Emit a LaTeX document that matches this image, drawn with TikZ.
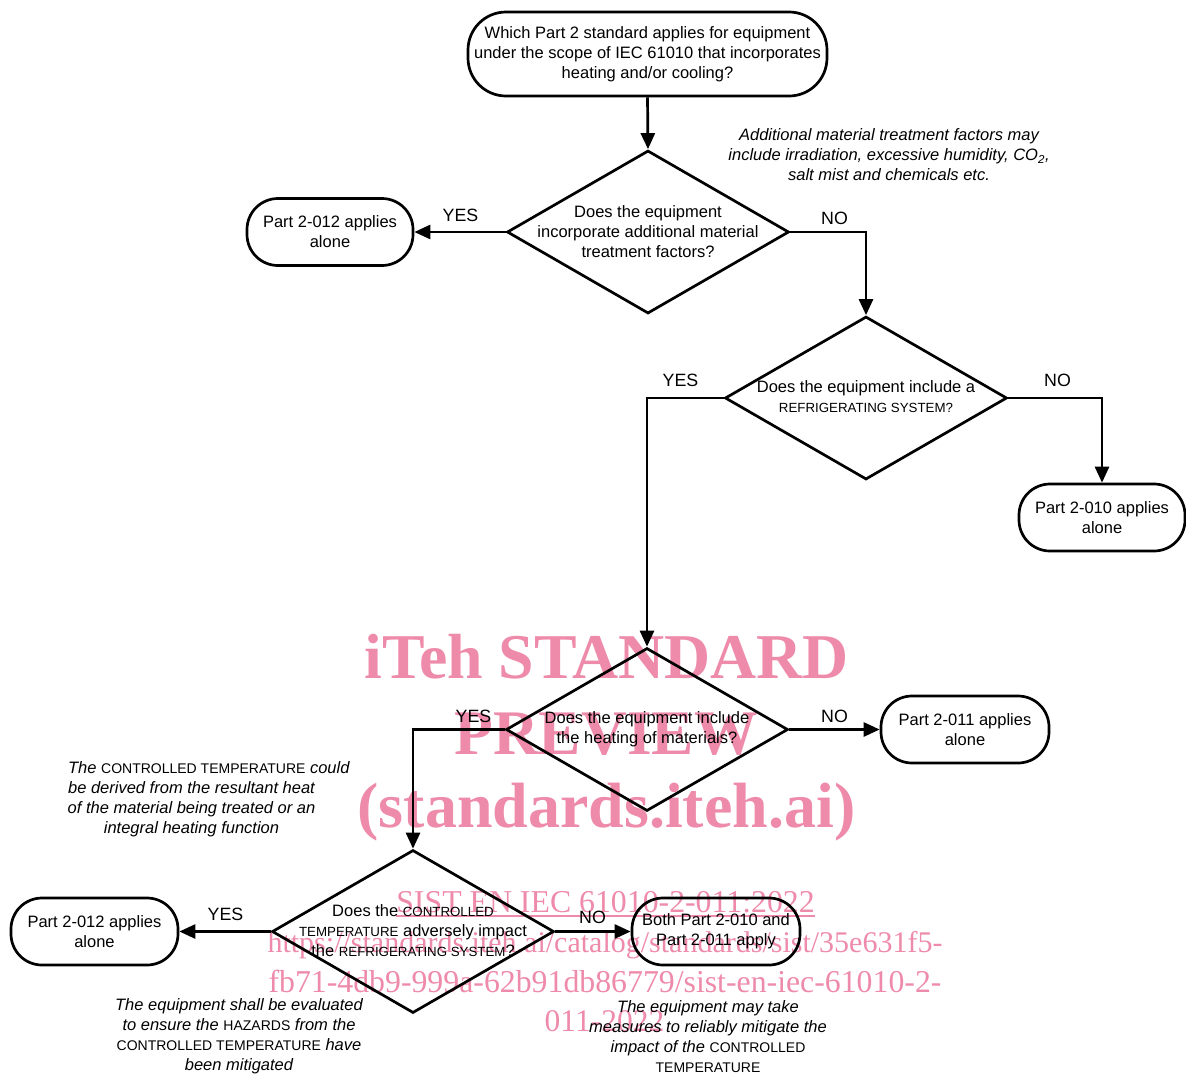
\documentclass[tikz,border=0pt]{standalone}
\usepackage{fontspec}
\setmainfont{Liberation Sans}
\newfontfamily\wmfont{Liberation Serif}
\usetikzlibrary{arrows.meta,shapes.geometric}
\newcommand\smc[1]{{\upshape\fontsize{13.3}{13}\selectfont #1}}
\newcommand\nsmc[1]{{\upshape\fontsize{14}{13}\selectfont #1}}
\newlength\nwA
\definecolor{wmpink}{RGB}{238,138,170}
\begin{document}
\begin{tikzpicture}[x=1pt,y=-1pt,
  every node/.style={font=\fontsize{16.5}{20}\selectfont},
  term/.style={draw,line width=2.7pt,rounded corners=31pt,minimum width=166pt,minimum height=67pt,align=center,inner sep=0pt},
  dia/.style={draw,line width=2.7pt,diamond,minimum width=282pt,minimum height=163pt,inner sep=0pt},
  qtext/.style={align=center,inner sep=0pt},
  lbl/.style={inner sep=0pt,font=\fontsize{17.8}{20}\selectfont},
  note/.style={align=center,inner sep=0pt,font=\itshape\fontsize{16.5}{20}\selectfont},
  arr/.style={line width=2.7pt,-{Triangle[length=16pt,width=14pt]}},
  wm/.style={text=wmpink,inner sep=0pt,anchor=base}
]
\useasboundingbox (0,0) rectangle (1186,1074);
% watermark (behind the diagram)
\node[wm,font=\wmfont\bfseries\fontsize{63.8}{64}\selectfont] (w1) at (606.5,678) {iTeh STANDARD};
\node[wm,font=\wmfont\bfseries\fontsize{63.5}{64}\selectfont] (w2) at (606,754) {PREVIEW};
\node[wm,font=\wmfont\bfseries\fontsize{64}{64}\selectfont] (w3) at (606.5,827) {(standards.iteh.ai)};
\node[wm,font=\wmfont\fontsize{31.8}{32}\selectfont] (w4) at (605.5,912) {SIST EN IEC 61010-2-011:2022};
\draw[wmpink,line width=2pt] (w4.base west)++(0,4) -- ([yshift=-4pt]w4.base east);
\node[wm,font=\wmfont\fontsize{30}{30}\selectfont] (w5) at (605,952) {https://standards.iteh.ai/catalog/standards/sist/35e631f5-};
\node[wm,font=\wmfont\fontsize{31.8}{32}\selectfont] (w6) at (605,992) {fb71-4db9-999a-62b91db86779/sist-en-iec-61010-2-};
\node[wm,font=\wmfont\fontsize{31.5}{32}\selectfont] (w7) at (604.5,1031) {011-2022};
% nodes
\node[term,minimum width=359pt,minimum height=84pt,rounded corners=38pt] (t0) at (647.5,54) {Which Part 2 standard applies for equipment\\under the scope of IEC 61010 that incorporates\\heating and/or cooling?};
\node[dia] (d1) at (648,232) {};
\node[qtext] (q1) at (d1) {Does the equipment\\incorporate additional material\\treatment factors?};
\node[term] (r1) at (330,232) {Part 2-012 applies\\alone};
\node[dia] (d2) at (866,398) {};
\node[qtext] (q2) at (866,397) {Does the equipment include a\\\smc{REFRIGERATING SYSTEM?}};
\node[term] (r2) at (1102,517.5) {Part 2-010 applies\\alone};
\node[dia] (d3) at (647,729.5) {};
\node[qtext] (q3) at (647,729) {Does the equipment include\\the heating of materials?};
\node[term,minimum width=168pt] (r3) at (965,729.5) {Part 2-011 applies\\alone};
\node[dia] (d4) at (413,931.5) {};
\node[qtext] (q4) at (413,931) {Does the \smc{CONTROLLED}\\\smc{TEMPERATURE} adversely impact\\the \smc{REFRIGERATING SYSTEM}?};
\node[term,minimum width=167pt] (r4) at (94.5,931.5) {Part 2-012 applies\\alone};
\node[term,minimum width=168pt] (r5) at (716,931.5) {Both Part 2-010 and\\Part 2-011 apply};
% notes
\node[note] (n1) at (889,155) {Additional material treatment factors may\\include irradiation, excessive humidity, CO\textsubscript{2},\\salt mist and chemicals etc.};
\node[note] (n2) at (191.5,799) {\settowidth{\nwA}{be derived from the resultant heat}\makebox[\nwA][l]{The \nsmc{CONTROLLED TEMPERATURE} could}\\be derived from the resultant heat\\of the material being treated or an\\integral heating function};
\node[note] (n3) at (239,1036.5) {The equipment shall be evaluated\\to ensure the \nsmc{HAZARDS} from the\\\nsmc{CONTROLLED TEMPERATURE} have\\been mitigated};
\node[note] (n4) at (708,1037) {The equipment may take\\measures to reliably mitigate the\\impact of the \nsmc{CONTROLLED}\\\nsmc{TEMPERATURE}};
% connectors
\draw[arr] (t0.south) -- (d1.north);
\draw[arr] (d1.west) -- (r1.east);
\draw[arr] (d1.east) -| (d2.north);
\draw[arr] (d2.east) -| (r2.north);
\draw[arr] (d2.west) -| (d3.north);
\draw[arr] (d3.east) -- (r3.west);
\draw[arr] (d3.west) -| (d4.north);
\draw[arr] (d4.west) -- (r4.east);
\draw[arr] (d4.east) -- (r5.west);
% labels
\node[lbl] (y1) at (460.5,215) {YES};
\node[lbl] (m1) at (834.5,218) {NO};
\node[lbl] (y2) at (680.5,380) {YES};
\node[lbl] (m2) at (1057.5,380) {NO};
\node[lbl] (y3) at (473.5,716) {YES};
\node[lbl] (m3) at (834.5,716) {NO};
\node[lbl] (y4) at (225.5,914) {YES};
\node[lbl] (m4) at (592.5,917) {NO};
\end{tikzpicture}
\end{document}
